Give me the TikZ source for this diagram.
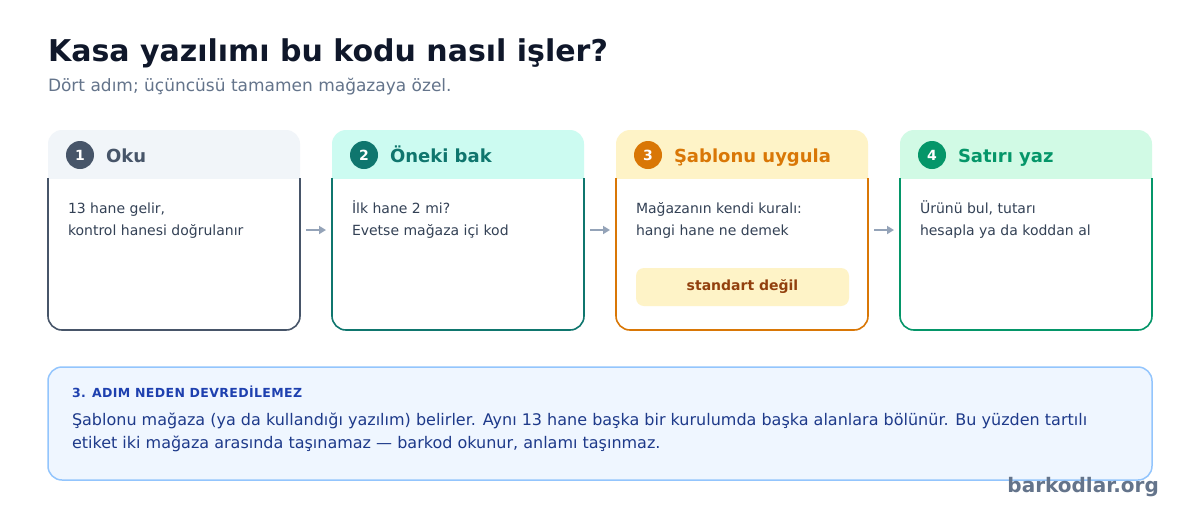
\documentclass[tikz,border=0pt]{standalone}
\usepackage{fontspec}
\setmainfont{DejaVu Sans}
\usetikzlibrary{arrows.meta}
\definecolor{ink}{HTML}{0F172A}
\definecolor{muted}{HTML}{64748B}
\definecolor{bodytxt}{HTML}{334155}
\definecolor{arrowgray}{HTML}{94A3B8}
\definecolor{slateC}{HTML}{475569}
\definecolor{slateH}{HTML}{F1F5F9}
\definecolor{tealC}{HTML}{0F766E}
\definecolor{tealH}{HTML}{CCFBF1}
\definecolor{amberC}{HTML}{D97706}
\definecolor{amberH}{HTML}{FEF3C7}
\definecolor{amberT}{HTML}{92400E}
\definecolor{greenC}{HTML}{059669}
\definecolor{greenH}{HTML}{D1FAE5}
\definecolor{noteFill}{HTML}{EFF6FF}
\definecolor{noteLine}{HTML}{93C5FD}
\definecolor{noteHead}{HTML}{1E40AF}
\definecolor{noteText}{HTML}{1E3A8A}
\newcommand\fs[1]{\fontsize{#1}{#1}\selectfont}
\tikzset{
  txt/.style={inner sep=0pt, outer sep=0pt, anchor=base west},
  cardbox/.style={minimum width=252pt, minimum height=200pt, inner sep=0pt, outer sep=0pt},
  flow/.style={draw=arrowgray, line width=2pt, -{Triangle[length=7pt,width=8pt]}, shorten <=6pt, shorten >=6pt},
  badge/.style={circle, minimum size=28pt, inner sep=0pt, text=white, font=\fs{14}\bfseries},
  bodyline/.style={txt, text=bodytxt, font=\fs{14}},
}
% #1 x, #2 name, #3 number, #4 title, #5 head fill, #6 colour, #7 line1, #8 line2
\newcommand\stepcard[8]{%
  \node[cardbox] (#2) at (#1+126,230) {};
  \begin{scope}
    \clip (#1-2,129) rectangle (#1+254,178);
    \fill[#5, rounded corners=14pt] (#1,130) rectangle (#1+252,210);
  \end{scope}
  \draw[#6, line width=1.6pt, rounded corners=14pt] (#1,178) -- (#1,330) -- (#1+252,330) -- (#1+252,178);
  \node[badge, fill=#6] (#2badge) at (#1+32,155) {#3};
  \node[txt, text=#6, font=\fs{18}\bfseries] (#2title) at (#1+58,162) {#4};
  \node[bodyline] (#2l1) at (#1+20,213) {#7};
  \node[bodyline] (#2l2) at (#1+20,235) {#8};
}
\begin{document}
\begin{tikzpicture}[x=1pt,y=-1pt]
\useasboundingbox (0,0) rectangle (1200,520);
\fill[white] (0,0) rectangle (1200,520);
\node[txt, text=ink, font=\fs{30}\bfseries] (title) at (48,61) {Kasa yazılımı bu kodu nasıl işler?};
\node[txt, text=muted, font=\fs{17}] (subtitle) at (48,91) {Dört adım; üçüncüsü tamamen mağazaya özel.};

\stepcard{48}{c1}{1}{Oku}{slateH}{slateC}{13 hane gelir,}{kontrol hanesi doğrulanır}
\stepcard{332}{c2}{2}{Öneki bak}{tealH}{tealC}{İlk hane 2 mi?}{Evetse mağaza içi kod}
\stepcard{616}{c3}{3}{Şablonu uygula}{amberH}{amberC}{Mağazanın kendi kuralı:}{hangi hane ne demek}
\stepcard{900}{c4}{4}{Satırı yaz}{greenH}{greenC}{Ürünü bul, tutarı}{hesapla ya da koddan al}

\node[fill=amberH, rounded corners=8pt, minimum width=213pt, minimum height=38pt, inner sep=0pt,
      text=amberT, font=\fs{14}\bfseries] (tag) at (742.5,287) {standart değil};

\draw[flow] (c1) -- (c2);
\draw[flow] (c2) -- (c3);
\draw[flow] (c3) -- (c4);

\node[fill=noteFill, draw=noteLine, line width=1.5pt, rounded corners=14pt,
      minimum width=1104pt, minimum height=113pt, inner sep=0pt] (note) at (600,423.5) {};
\node[txt, text=noteHead, font=\fs{12.5}\bfseries\addfontfeature{LetterSpace=3}] (notehead) at (72,397) {3. ADIM NEDEN DEVREDİLEMEZ};
\node[txt, text=noteText, font=\fs{16}] (note1) at (72,425) {Şablonu mağaza (ya da kullandığı yazılım) belirler. Aynı 13 hane başka bir kurulumda başka alanlara bölünür. Bu yüzden tartılı};
\node[txt, text=noteText, font=\fs{16}] (note2) at (72,448) {etiket iki mağaza arasında taşınamaz — barkod okunur, anlamı taşınmaz.};

\node[inner sep=0pt, anchor=base east, text=muted, font=\fs{20}\bfseries] (footer) at (1159,492) {barkodlar.org};
\end{tikzpicture}
\end{document}
